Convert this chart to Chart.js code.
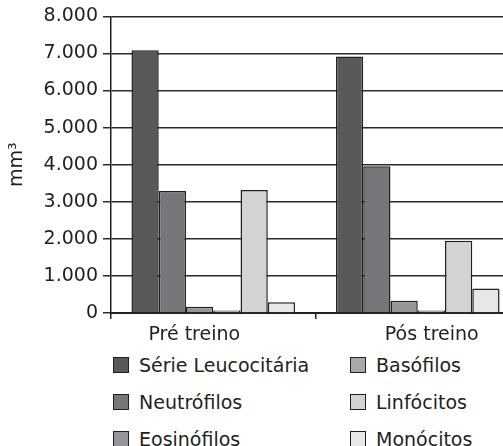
<!DOCTYPE html>
<html>
<head>
<meta charset="utf-8">
<script src="https://cdn.jsdelivr.net/npm/chart.js@4/dist/chart.umd.min.js"></script>
<style>
  body { margin: 0; background: #fff; overflow: hidden; }
  #wrap { position: relative; width: 520px; height: 446px; }
  #chartBox { position: absolute; left: 0; top: 0; width: 520px; height: 345px; }
  #legend {
    position: absolute; left: 113px; top: 346px;
    display: grid; grid-template-columns: 237px 160px; grid-template-rows: repeat(3, 37px);
    grid-auto-flow: column;
    font-family: "DejaVu Sans", sans-serif; font-size: 19px; color: #231f20;
  }
  .item { display: flex; align-items: center; white-space: nowrap; }
  .box { width: 14px; height: 14px; border: 1.5px solid #231f20; margin-right: 10px; }
</style>
</head>
<body>
<div id="wrap">
  <div id="chartBox"><canvas id="chart"></canvas></div>
  <div id="legend"></div>
</div>
<script>
// Dados do gráfico
const categorias = ['Pré treino', 'Pós treino'];
const series = ['Série Leucocitária', 'Neutrófilos', 'Eosinófilos', 'Basófilos', 'Linfócitos', 'Monócitos'];
const serieLeucocitaria = [7090, 6920];
const neutrofilos = [3290, 3960];
const eosinofilos = [170, 330];
const basofilos = [70, 70];
const linfocitos = [3320, 1950];
const monocitos = [290, 660];
const ticksY = [0, 1000, 2000, 3000, 4000, 5000, 6000, 7000, 8000];

const valores = [serieLeucocitaria, neutrofilos, eosinofilos, basofilos, linfocitos, monocitos];
const cores = ['#58595b', '#76777a', '#939598', '#a7a9ac', '#d1d3d4', '#e6e7e8'];
const deslocRotulo = [-19, 14]; // rótulos do eixo x não ficam centrados na imagem original

function formatarMilhar(v) {
    return String(v).replace(/\B(?=(\d{3})+(?!\d))/g, '.');
}

// Desenha os rótulos do eixo x
const rotulosX = {
    id: 'rotulosX',
    afterDraw(chart) {
        const ctx = chart.ctx;
        const x = chart.scales.x;
        ctx.save();
        ctx.font = '19px "DejaVu Sans"';
        ctx.fillStyle = '#231f20';
        ctx.textAlign = 'center';
        ctx.textBaseline = 'middle';
        categorias.forEach((c, i) => {
            ctx.fillText(c, x.getPixelForValue(i) + deslocRotulo[i], x.bottom - 10);
        });
        ctx.restore();
    }
};

const chart = new Chart(document.getElementById('chart'), {
    type: 'bar',
    data: {
        labels: categorias,
        datasets: series.map((nome, i) => ({
            label: nome,
            data: valores[i],
            backgroundColor: cores[i],
            borderColor: '#231f20',
            borderWidth: 1.5,
            categoryPercentage: 0.8,
            barPercentage: 1.0
        }))
    },
    options: {
        responsive: true,
        maintainAspectRatio: false,
        animation: false,
        layout: { padding: { top: 16, right: 0, left: 0, bottom: 0 } },
        plugins: {
            legend: { display: false },
            tooltip: { enabled: false }
        },
        scales: {
            x: {
                grid: { drawOnChartArea: false, drawTicks: true, tickLength: 6, color: '#231f20', lineWidth: 1.5 },
                border: { color: '#231f20', width: 2 },
                ticks: { display: false },
                afterFit(scale) { scale.height = 32; }
            },
            y: {
                min: 0,
                max: 8000,
                afterBuildTicks(scale) { scale.ticks = ticksY.map(v => ({ value: v })); },
                grid: { color: '#2b2b2b', lineWidth: 1.5, tickLength: 8 },
                border: { color: '#231f20', width: 1.5 },
                ticks: {
                    padding: 5,
                    color: '#231f20',
                    font: { family: 'DejaVu Sans', size: 19 },
                    callback: v => formatarMilhar(v)
                },
                title: {
                    display: true,
                    text: 'mm³',
                    color: '#231f20',
                    font: { family: 'DejaVu Sans', size: 19 },
                    padding: { top: 6, bottom: 0 }
                },
                afterFit(scale) { scale.width = 111; }
            }
        }
    },
    plugins: [rotulosX]
});

// Legenda em HTML (duas colunas)
const legenda = document.getElementById('legend');
chart.data.datasets.forEach(ds => {
    const item = document.createElement('div');
    item.className = 'item';
    item.innerHTML = '<span class="box" style="background:' + ds.backgroundColor + '"></span><span>' + ds.label + '</span>';
    legenda.appendChild(item);
});
</script>
</body>
</html>
